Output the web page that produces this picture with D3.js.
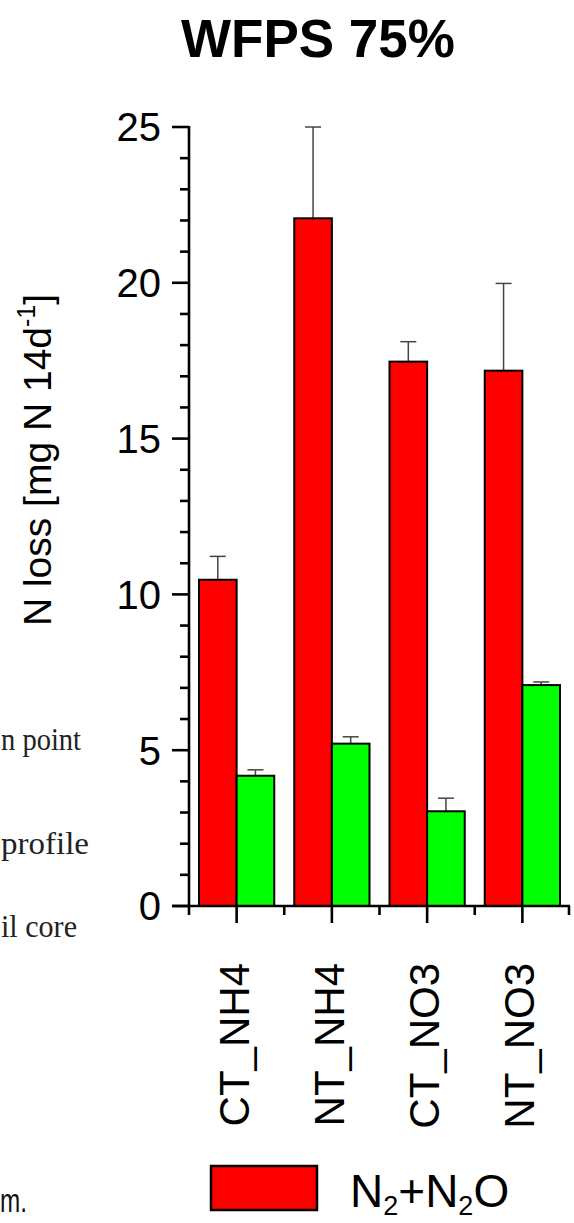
<!DOCTYPE html>
<html>
<head>
<meta charset="utf-8">
<script src="https://cdn.jsdelivr.net/npm/d3@7"></script>
<style>
  html, body { margin: 0; padding: 0; background: #fff; }
  svg { display: block; }
</style>
</head>
<body>
<svg id="chart" width="574" height="1223"></svg>
<script>
// Treatments along the x axis
const categories = ["CT_NH4", "NT_NH4", "CT_NO3", "NT_NO3"];
// N2+N2O loss (red) and its standard error
const n2n2oValues = [10.47, 22.07, 17.47, 17.18];
const n2n2oErrors = [0.75, 2.93, 0.64, 2.80];
// Second series (green) and its standard error
const n2oValues = [4.18, 5.21, 3.04, 7.09];
const n2oErrors = [0.19, 0.22, 0.42, 0.10];
// Y axis ticks
const yMajorTicks = [0, 5, 10, 15, 20, 25];
const yMinorTicks = d3.range(0, 26, 1);

const svg = d3.select("#chart");
const FONT = "Liberation Sans, Arial, sans-serif";

const x = d3.scaleBand().domain(categories).range([189, 570]).padding(0);
const y = d3.scaleLinear().domain([0, 25]).range([906, 127]);
const barW = x.bandwidth() * 0.395;

// Fragments of neighbouring page text at the left edge
const side = svg.append("g").attr("font-family", "Liberation Serif, Times New Roman, serif")
  .attr("font-size", 31).attr("fill", "#222");
[["n point", 750, 80], ["profile", 854, 88], ["il core", 937, 76]].forEach(([t, yy, w]) => {
  side.append("text").attr("x", 1).attr("y", yy).attr("textLength", w)
    .attr("lengthAdjust", "spacingAndGlyphs").text(t);
});
svg.append("text").attr("x", 0).attr("y", 1212)
  .attr("font-family", FONT).attr("font-size", 34).attr("fill", "#111")
  .attr("textLength", 27).attr("lengthAdjust", "spacingAndGlyphs").text("m.");

// Title
svg.append("text").attr("x", 318).attr("y", 57).attr("text-anchor", "middle")
  .attr("font-family", FONT).attr("font-weight", "bold").attr("font-size", 53).text("WFPS 75%");

// Bars
const series = [
  { values: n2n2oValues, errors: n2n2oErrors, color: "#ff0000", offset: -barW },
  { values: n2oValues, errors: n2oErrors, color: "#00ff00", offset: 0 }
];
series.forEach(s => {
  const g = svg.append("g");
  const rows = categories.map((c, i) => ({ c, v: s.values[i], e: s.errors[i] }));
  const cx = d => x(d.c) + x.bandwidth() / 2 + s.offset;
  // error bars (upper only)
  g.selectAll("line.err").data(rows).join("line")
    .attr("x1", d => cx(d) + barW / 2).attr("x2", d => cx(d) + barW / 2)
    .attr("y1", d => y(d.v)).attr("y2", d => y(d.v + d.e))
    .attr("stroke", "#444").attr("stroke-width", 1.5);
  g.selectAll("line.cap").data(rows).join("line")
    .attr("x1", d => cx(d) + barW / 2 - 8).attr("x2", d => cx(d) + barW / 2 + 8)
    .attr("y1", d => y(d.v + d.e)).attr("y2", d => y(d.v + d.e))
    .attr("stroke", "#444").attr("stroke-width", 1.5);
  g.selectAll("rect").data(rows).join("rect")
    .attr("x", d => cx(d)).attr("width", barW)
    .attr("y", d => y(d.v)).attr("height", d => y(0) - y(d.v))
    .attr("fill", s.color).attr("stroke", "#000").attr("stroke-width", 2);
});

// Y axis
const yAxis = svg.append("g").attr("stroke", "#000").attr("stroke-width", 2.6);
yAxis.append("line").attr("x1", 189).attr("x2", 189).attr("y1", y(25) - 1).attr("y2", y(0));
yAxis.selectAll("line.minor").data(yMinorTicks.filter(t => t % 5 !== 0)).join("line")
  .attr("x1", 180).attr("x2", 189).attr("y1", d => y(d)).attr("y2", d => y(d));
yAxis.selectAll("line.major").data(yMajorTicks).join("line")
  .attr("x1", 172).attr("x2", 189).attr("y1", d => y(d)).attr("y2", d => y(d));
svg.append("g").attr("font-family", FONT).attr("font-size", 40).attr("text-anchor", "end")
  .selectAll("text").data(yMajorTicks).join("text")
  .attr("x", 161).attr("y", d => y(d)).attr("dy", "0.36em").text(d => d);

// X axis
const xAxis = svg.append("g").attr("stroke", "#000").attr("stroke-width", 2.6);
xAxis.append("line").attr("x1", 172).attr("x2", 570).attr("y1", y(0)).attr("y2", y(0));
const bounds = categories.map(c => x(c)).concat([x.range()[1] - 1]);
xAxis.selectAll("line.minor").data(bounds).join("line")
  .attr("x1", d => d).attr("x2", d => d).attr("y1", y(0)).attr("y2", y(0) + 9);
xAxis.selectAll("line.major").data(categories).join("line")
  .attr("x1", d => x(d) + x.bandwidth() / 2).attr("x2", d => x(d) + x.bandwidth() / 2)
  .attr("y1", y(0)).attr("y2", y(0) + 17);
svg.append("g").attr("font-family", FONT).attr("font-size", 42).attr("text-anchor", "end")
  .selectAll("text").data(categories).join("text")
  .attr("transform", d => `translate(${x(d) + x.bandwidth() / 2 + 12},963) rotate(-90)`)
  .text(d => d);

// Y axis title
const yt = svg.append("text").attr("font-family", FONT).attr("font-size", 39)
  .attr("text-anchor", "middle").attr("transform", "translate(51,460) rotate(-90)");
yt.append("tspan").text("N loss [mg N 14d");
yt.append("tspan").attr("font-size", 25).attr("dy", -16).text("-1");
yt.append("tspan").attr("dy", 16).text("]");

// Legend
svg.append("rect").attr("x", 211).attr("y", 1166).attr("width", 106).attr("height", 44)
  .attr("fill", "#ff0000").attr("stroke", "#000").attr("stroke-width", 2.5);
const lt = svg.append("text").attr("x", 350).attr("y", 1207)
  .attr("font-family", FONT).attr("font-size", 46);
lt.append("tspan").text("N");
lt.append("tspan").attr("font-size", 27).attr("dy", 8).text("2");
lt.append("tspan").attr("dy", -8).text("+N");
lt.append("tspan").attr("font-size", 27).attr("dy", 8).text("2");
lt.append("tspan").attr("dy", -8).text("O");
</script>
</body>
</html>
